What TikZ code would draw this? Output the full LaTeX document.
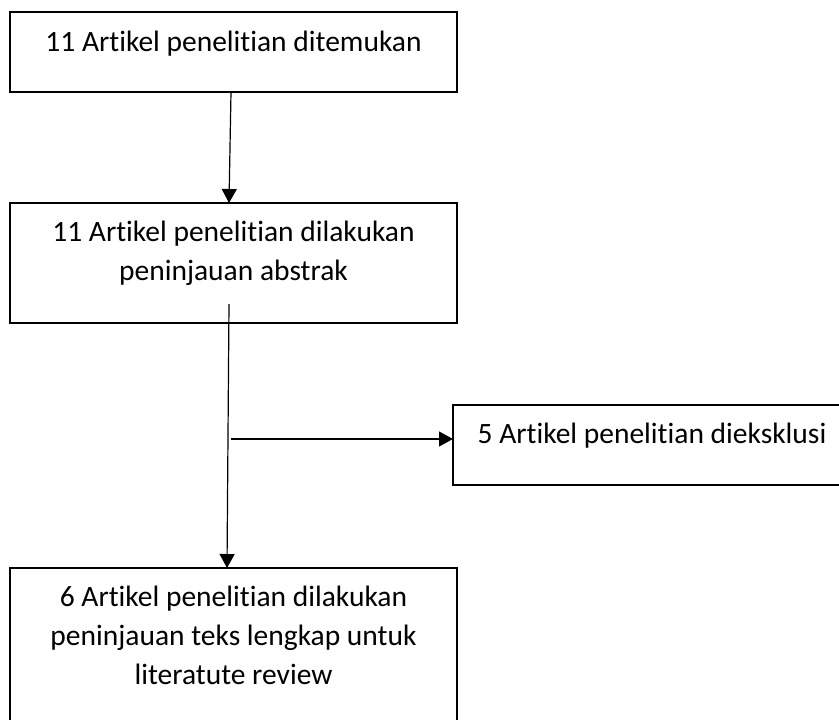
\documentclass[tikz,border=0pt]{standalone}
\usepackage{fontspec}
\setmainfont[Ligatures={TeX,NoCommon}]{Carlito}
\usetikzlibrary{arrows.meta}
\begin{document}
\begin{tikzpicture}[x=1pt,y=-1pt,
  box/.style={draw=black,line width=1.8pt,rectangle,inner sep=0pt,outer sep=0pt},
  txt/.style={inner sep=0pt,anchor=base,font=\fontsize{29.5}{37}\selectfont},
  conn/.style={draw=black,line width=1.2pt},
  arr/.style={conn,-{Triangle[length=14pt,width=15pt]}}]
\useasboundingbox (0,0) rectangle (839,720);
\node[box,minimum width=447pt,minimum height=80pt] (b1) at (233.5,52) {};
\node[box,minimum width=447pt,minimum height=120pt] (b2) at (233.5,263) {};
\node[box,minimum width=398pt,minimum height=80pt] (b3) at (652,445) {};
\node[box,minimum width=447pt,minimum height=162pt] (b4) at (233.5,649) {};
\node[txt] (t1) at (233.5,51) {11 Artikel penelitian ditemukan};
\node[txt] (t2a) at (233.5,241) {11 Artikel penelitian dilakukan};
\node[txt] (t2b) at (233.5,280) {peninjauan abstrak};
\node[txt] (t3) at (652,443) {5 Artikel penelitian dieksklusi};
\node[txt] (t4a) at (233.5,606) {6 Artikel penelitian dilakukan};
\node[txt] (t4b) at (233.5,645) {peninjauan teks lengkap untuk};
\node[txt] (t4c) at (233.5,684) {literatute review};
\coordinate (a1s) at ([xshift=-2.5pt]b1.south);
\coordinate (a1e) at ([xshift=-4.5pt]b2.north);
\draw[arr] (a1s) -- (a1e);
\coordinate (a2s) at (229,304);
\coordinate (a2e) at ([xshift=-6.5pt]b4.north);
\draw[arr] (a2s) -- (a2e);
\coordinate (a3s) at (231,439);
\coordinate (a3e) at (b3.west |- a3s);
\draw[arr] (a3s) -- (a3e);
\end{tikzpicture}
\end{document}
